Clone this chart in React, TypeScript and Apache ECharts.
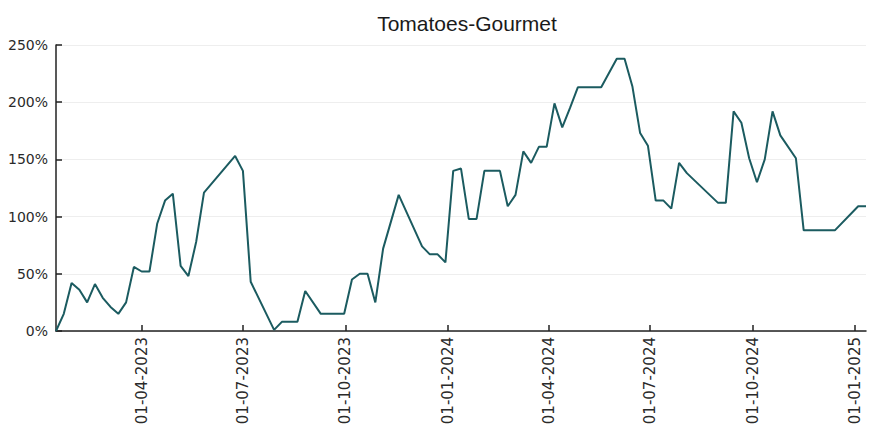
import React, { useEffect, useRef } from "react";
import * as echarts from "echarts";

const titleText = "Tomatoes-Gourmet";

const dates = [
  "2023-01-14", "2023-01-21", "2023-01-28", "2023-02-04", "2023-02-11", "2023-02-18",
  "2023-02-25", "2023-03-04", "2023-03-11", "2023-03-18", "2023-03-25", "2023-04-01",
  "2023-04-08", "2023-04-15", "2023-04-22", "2023-04-29", "2023-05-06", "2023-05-13",
  "2023-05-20", "2023-05-27", "2023-06-24", "2023-07-01", "2023-07-08", "2023-07-29",
  "2023-08-05", "2023-08-19", "2023-08-26", "2023-09-09", "2023-09-30", "2023-10-07",
  "2023-10-14", "2023-10-21", "2023-10-28", "2023-11-04", "2023-11-18", "2023-12-09",
  "2023-12-16", "2023-12-23", "2023-12-30", "2024-01-06", "2024-01-13", "2024-01-20",
  "2024-01-27", "2024-02-03", "2024-02-17", "2024-02-24", "2024-03-02", "2024-03-09",
  "2024-03-16", "2024-03-23", "2024-03-30", "2024-04-06", "2024-04-13", "2024-04-20",
  "2024-04-27", "2024-05-18", "2024-06-01", "2024-06-08", "2024-06-15", "2024-06-22",
  "2024-06-29", "2024-07-06", "2024-07-13", "2024-07-20", "2024-07-27", "2024-08-03",
  "2024-08-31", "2024-09-07", "2024-09-14", "2024-09-21", "2024-09-28", "2024-10-05",
  "2024-10-12", "2024-10-19", "2024-10-26", "2024-11-09", "2024-11-16", "2024-12-14",
  "2025-01-04", "2025-01-11",
];

const values = [
  0, 15, 42, 36, 25, 41,
  29, 21, 15, 25, 56, 52,
  52, 94, 114, 120, 57, 48,
  78, 121, 153, 140, 43, 1,
  8, 8, 35, 15, 15, 45,
  50, 50, 25, 72, 119, 74,
  67, 67, 60, 140, 142, 98,
  98, 140, 140, 109, 119, 157,
  147, 161, 161, 199, 178, 195,
  213, 213, 238, 238, 214, 173,
  162, 114, 114, 107, 147, 138,
  112, 112, 192, 182, 151, 130,
  150, 192, 171, 151, 88, 88,
  109, 109,
];

const xTickDates = [
  "2023-04-01", "2023-07-01", "2023-10-01", "2024-01-01",
  "2024-04-01", "2024-07-01", "2024-10-01", "2025-01-01",
];

const yMin = 0;
const yMax = 250;
const yStep = 50;

const toTs = (s: string) => {
  const [y, m, d] = s.split("-").map(Number);
  return new Date(y, m - 1, d).getTime();
};

const pad = (n: number) => (n < 10 ? "0" + n : "" + n);

export default function App() {
  const ref = useRef<HTMLDivElement>(null);
  useEffect(() => {
    const chart = echarts.init(ref.current!, null, { renderer: "svg" });
    const tickTs = xTickDates.map(toTs);
    const labelFont = "DejaVu Sans";
    chart.setOption({
      animation: false,
      title: {
        text: titleText,
        left: 462,
        top: 8,
        textAlign: "center",
        textStyle: {
          fontFamily: "Liberation Sans",
          fontSize: 21,
          fontWeight: "normal",
          color: "#1a1a1a",
        },
      },
      grid: { left: 56, right: 4, top: 45, bottom: 99, containLabel: false },
      xAxis: {
        type: "value",
        min: toTs(dates[0]),
        max: toTs(dates[dates.length - 1]),
        axisLine: { show: true, onZero: false, lineStyle: { color: "#222", width: 1.5 } },
        axisTick: {
          show: true,
          inside: true,
          length: 6,
          customValues: tickTs,
          lineStyle: { color: "#222", width: 1.5 },
        },
        axisLabel: {
          customValues: tickTs,
          rotate: 90,
          margin: 6,
          fontFamily: labelFont,
          fontSize: 15,
          color: "#2a2a2a",
          formatter: (v: number) => {
            const d = new Date(v);
            return pad(d.getDate()) + "-" + pad(d.getMonth() + 1) + "-" + d.getFullYear();
          },
        },
        splitLine: { show: false },
      },
      yAxis: {
        type: "value",
        min: yMin,
        max: yMax,
        interval: yStep,
        axisLine: { show: true, lineStyle: { color: "#222", width: 1.5 } },
        axisTick: { show: true, inside: true, length: 6, lineStyle: { color: "#222", width: 1.5 } },
        axisLabel: {
          formatter: "{value}%",
          margin: 8,
          fontFamily: labelFont,
          fontSize: 14,
          color: "#2a2a2a",
        },
        splitLine: { show: true, lineStyle: { color: "#eeeeee", width: 1 } },
      },
      series: [
        {
          type: "line",
          data: dates.map((d, i) => [toTs(d), values[i]]),
          showSymbol: false,
          lineStyle: { color: "#1b5b60", width: 2 },
          itemStyle: { color: "#1b5b60" },
        },
      ],
    });
    return () => chart.dispose();
  }, []);
  return (
    <div
      ref={ref}
      style={{ position: "absolute", left: 0, top: 0, width: 870, height: 430 }}
    />
  );
}
